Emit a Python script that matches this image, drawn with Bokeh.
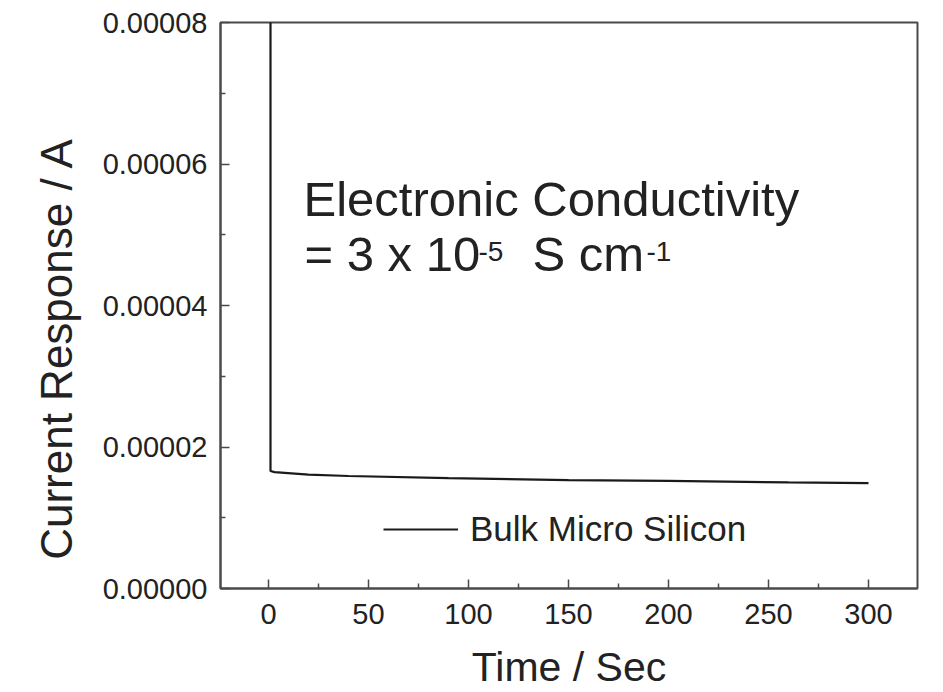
from bokeh.plotting import figure
from bokeh.models import Range1d, Label, Legend, LegendItem, FixedTicker
from bokeh.embed import file_html
from bokeh.resources import INLINE

time_s = [1, 1, 3, 20, 40, 90, 150, 200, 260, 300]
current_a = [1.0e-4, 1.66e-5, 1.645e-5, 1.61e-5, 1.59e-5, 1.56e-5, 1.532e-5, 1.52e-5, 1.50e-5, 1.49e-5]
x_ticks = [0, 50, 100, 150, 200, 250, 300]
y_ticks = [0.0, 0.00002, 0.00004, 0.00006, 0.00008]
y_tick_labels = {0.0: "0.00000", 0.00002: "0.00002", 0.00004: "0.00004", 0.00006: "0.00006", 0.00008: "0.00008"}

FONT = "Liberation Sans"
TXT = "#222222"
AX = "#4a4a4a"

p = figure(width=943, height=692, output_backend="svg", toolbar_location=None,
           x_range=Range1d(-24, 324.5), y_range=Range1d(0, 0.00008),
           min_border_left=220, min_border_right=26, min_border_top=22, min_border_bottom=104)
p.grid.visible = False
p.outline_line_color = AX
p.outline_line_width = 2
p.background_fill_color = "white"
p.border_fill_color = "white"

r = p.line(time_s, current_a, line_color="#1a1a1a", line_width=2.2)

for ax in (p.xaxis[0], p.yaxis[0]):
    ax.axis_line_color = AX
    ax.axis_line_width = 2
    ax.major_tick_in = 9
    ax.major_tick_out = 0
    ax.minor_tick_in = 5
    ax.minor_tick_out = 0
    ax.major_tick_line_color = AX
    ax.minor_tick_line_color = AX
    ax.major_tick_line_width = 1.5
    ax.minor_tick_line_width = 1.5
    ax.major_label_text_font = FONT
    ax.major_label_text_font_size = "29px"
    ax.major_label_text_color = TXT
    ax.axis_label_text_font = FONT
    ax.axis_label_text_font_style = "normal"
    ax.axis_label_text_color = TXT

p.xaxis.ticker = FixedTicker(ticks=x_ticks, minor_ticks=[-25, 25, 75, 125, 175, 225, 275])
p.yaxis.ticker = FixedTicker(ticks=y_ticks, minor_ticks=[0.00001, 0.00003, 0.00005, 0.00007])
p.yaxis.major_label_overrides = y_tick_labels
p.xaxis.major_label_standoff = 15
p.yaxis.major_label_standoff = 13
p.xaxis.axis_label = "Time / Sec"
# trailing no-break spaces shift the visible title slightly below the frame centre, as in the original
p.yaxis.axis_label = "Current Response / A" + "\u00a0" * 7
p.xaxis.axis_label_text_font_size = "41px"
p.yaxis.axis_label_text_font_size = "44px"
p.xaxis.axis_label_standoff = 17
p.yaxis.axis_label_standoff = 19

legend = Legend(items=[LegendItem(label="Bulk Micro Silicon", renderers=[r])],
                location=(163, 39), padding=0, margin=0, glyph_width=75, glyph_height=38,
                label_standoff=12, label_text_font=FONT, label_text_font_size="35px",
                label_text_color=TXT, border_line_alpha=0, background_fill_alpha=0)
p.add_layout(legend)

def lab(x, y, text, size):
    p.add_layout(Label(x=x, y=y, x_units="screen", y_units="screen", text=text,
                       text_font=FONT, text_font_size=size, text_color=TXT,
                       text_baseline="alphabetic", text_align="left"))

lab(303 - 220, 390, "Electronic  Conductivity", "49px")
lab(304 - 220, 335, "= 3 x 10", "49px")
lab(478 - 220, 337, "-5", "28px")
lab(532 - 220, 335, "S cm", "49px")
lab(646 - 220, 337, "-1", "28px")

open("out.html", "w").write(file_html(p, INLINE))
